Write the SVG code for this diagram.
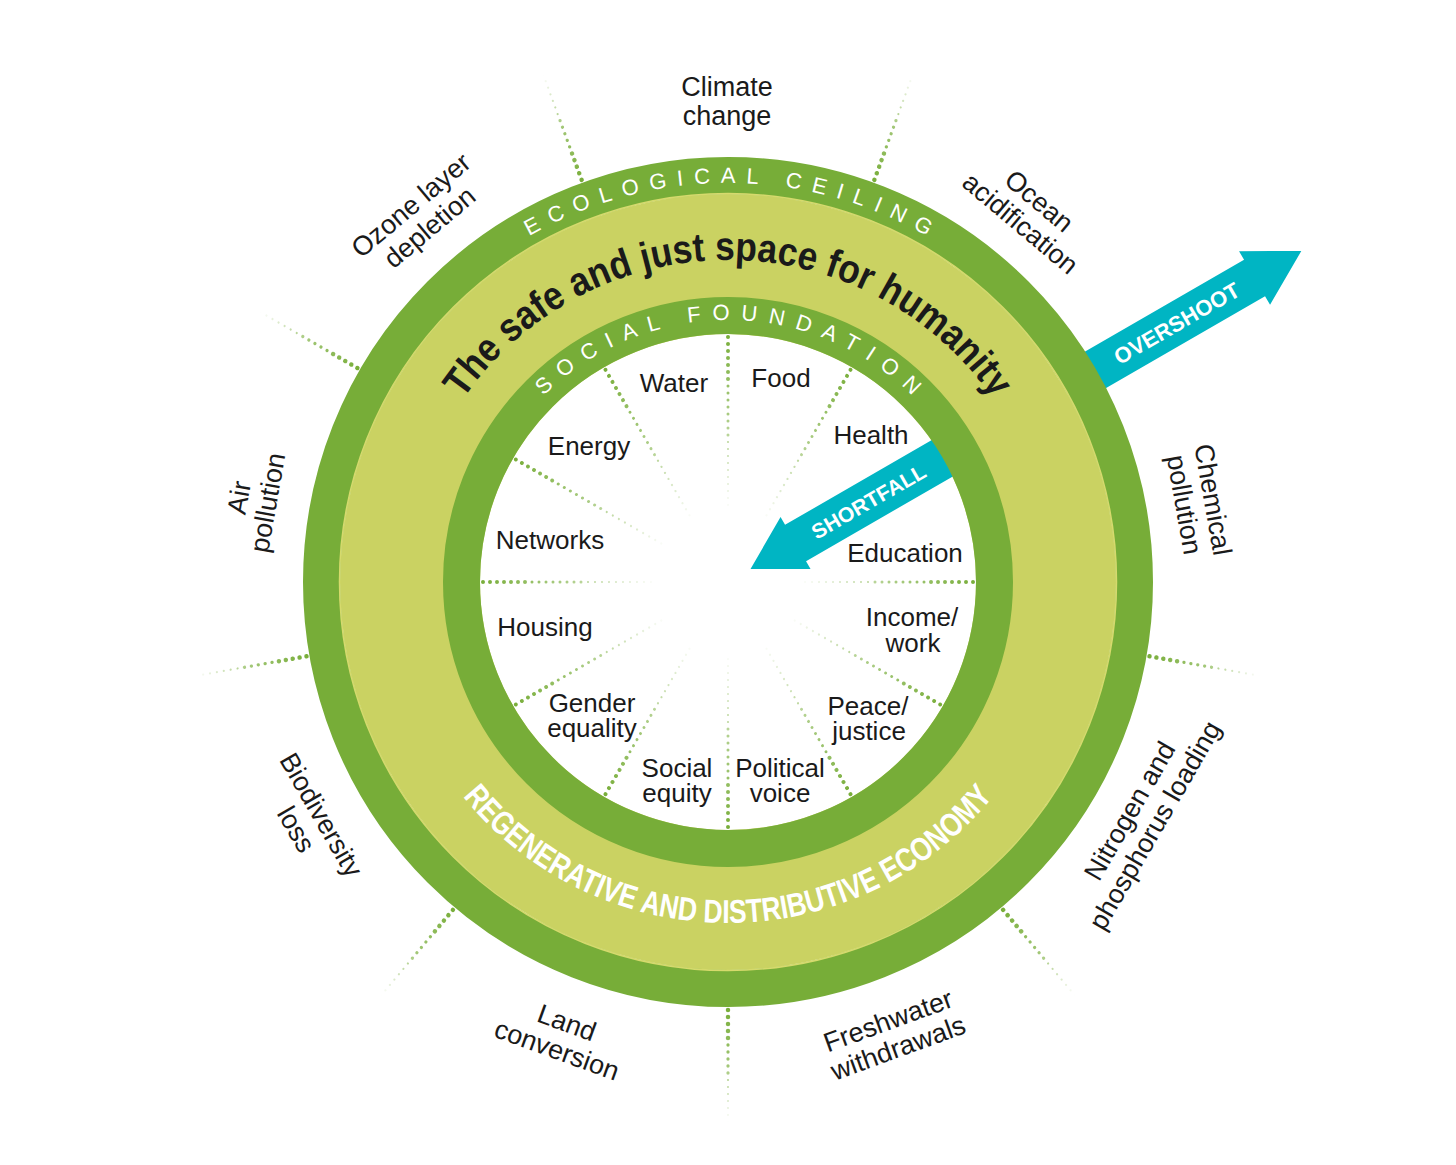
<svg xmlns="http://www.w3.org/2000/svg" xmlns:xlink="http://www.w3.org/1999/xlink" width="1456" height="1165" viewBox="0 0 1456 1165">
<style>
.lab{font-family:"Liberation Sans",Arial,sans-serif;font-size:26px;fill:#1a1a1a;text-anchor:middle}
.out{font-family:"Liberation Sans",Arial,sans-serif;font-size:27px;fill:#1a1a1a;text-anchor:middle}
.ring{font-family:"Liberation Sans",Arial,sans-serif;font-size:22px;fill:#ffffff}
.title{font-family:"Liberation Sans",Arial,sans-serif;font-weight:bold;font-size:40px;fill:#1a1a1a}
.econ{font-family:"Liberation Sans",Arial,sans-serif;font-weight:bold;font-size:33px;fill:#ffffff}
.arr{font-family:"Liberation Sans",Arial,sans-serif;font-weight:bold;fill:#ffffff;text-anchor:middle}
.teal{fill:#00B5C3}
</style>
<defs>
<linearGradient id="gOut" gradientUnits="userSpaceOnUse" x1="425" y1="0" x2="540" y2="0">
<stop offset="0" stop-color="#77AD38" stop-opacity="1"/>
<stop offset="0.5" stop-color="#77AD38" stop-opacity="0.7"/>
<stop offset="1" stop-color="#77AD38" stop-opacity="0"/>
</linearGradient>
<linearGradient id="gIn" gradientUnits="userSpaceOnUse" x1="248" y1="0" x2="70" y2="0">
<stop offset="0" stop-color="#77AD38" stop-opacity="1"/>
<stop offset="0.5" stop-color="#77AD38" stop-opacity="0.6"/>
<stop offset="1" stop-color="#77AD38" stop-opacity="0"/>
</linearGradient>
<g id="spokeOut" fill="none" stroke="url(#gOut)" stroke-linecap="round" stroke-dasharray="0 7">
<line x1="428" y1="0" x2="460" y2="0" stroke-width="4.5"/>
<line x1="463" y1="0" x2="495" y2="0" stroke-width="3.3"/>
<line x1="498" y1="0" x2="541" y2="0" stroke-width="2.2"/>
</g>
<g id="spokeIn" fill="none" stroke="url(#gIn)" stroke-linecap="round" stroke-dasharray="0 7">
<line x1="245" y1="0" x2="200" y2="0" stroke-width="4"/>
<line x1="196" y1="0" x2="145" y2="0" stroke-width="3"/>
<line x1="140" y1="0" x2="70" y2="0" stroke-width="2.2"/>
</g>
<path id="pEco" d="M 329 582 A 399 399 0 0 1 1127 582" fill="none"/>
<path id="pSoc" d="M 466 582 A 262 262 0 0 1 990 582" fill="none"/>
<path id="pTitle" d="M 406 582 A 322 322 0 0 1 1050 582" fill="none"/>
<path id="pEcon" d="M 387 582 A 341 341 0 0 0 1069 582" fill="none"/>
</defs>
<rect x="0" y="0" width="1456" height="1165" fill="#ffffff"/>

<g id="connectors">
<use href="#spokeOut" transform="translate(728 582) rotate(10)"/>
<use href="#spokeOut" transform="translate(728 582) rotate(50)"/>
<use href="#spokeOut" transform="translate(728 582) rotate(90)"/>
<use href="#spokeOut" transform="translate(728 582) rotate(130)"/>
<use href="#spokeOut" transform="translate(728 582) rotate(170)"/>
<use href="#spokeOut" transform="translate(728 582) rotate(210)"/>
<use href="#spokeOut" transform="translate(728 582) rotate(250)"/>
<use href="#spokeOut" transform="translate(728 582) rotate(290)"/>
</g>

<g id="overshoot" transform="translate(728 582) rotate(-30)">
<polygon class="teal" points="400,-21 608,-21 608,-31 662,0 608,31 608,21 400,21"/>
<text class="arr" x="518" y="8" font-size="22" textLength="141" lengthAdjust="spacingAndGlyphs">OVERSHOOT</text>
</g>

<g id="doughnut">
<circle cx="728" cy="582" r="388" fill="#CAD262"/>
<circle cx="728" cy="582" r="406.5" fill="none" stroke="#77AD38" stroke-width="37"/>
<circle cx="728" cy="582" r="388.5" fill="none" stroke="#D6DA6C" stroke-width="1.5"/>
<circle cx="728" cy="582" r="248" fill="#ffffff"/>
</g>

<g id="inner-spokes">
<use href="#spokeIn" transform="translate(728 582) rotate(0)"/>
<use href="#spokeIn" transform="translate(728 582) rotate(30)"/>
<use href="#spokeIn" transform="translate(728 582) rotate(60)"/>
<use href="#spokeIn" transform="translate(728 582) rotate(90)"/>
<use href="#spokeIn" transform="translate(728 582) rotate(120)"/>
<use href="#spokeIn" transform="translate(728 582) rotate(150)"/>
<use href="#spokeIn" transform="translate(728 582) rotate(180)"/>
<use href="#spokeIn" transform="translate(728 582) rotate(210)"/>
<use href="#spokeIn" transform="translate(728 582) rotate(240)"/>
<use href="#spokeIn" transform="translate(728 582) rotate(270)"/>
<use href="#spokeIn" transform="translate(728 582) rotate(300)"/>
</g>

<g id="shortfall" transform="translate(728 582) rotate(-30)">
<polygon class="teal" points="26,0 78,-30 78,-21 262,-21 262,21 78,21 78,30"/>
<text class="arr" x="162" y="8" font-size="21" textLength="128" lengthAdjust="spacingAndGlyphs">SHORTFALL</text>
</g>

<g id="inner-ring">
<circle cx="728" cy="582" r="266.5" fill="none" stroke="#77AD38" stroke-width="37"/>
</g>

<g id="ring-labels">
<text class="ring" letter-spacing="10.6"><textPath href="#pEco" startOffset="632" text-anchor="middle">ECOLOGICAL CEILING</textPath></text>
<text class="ring" letter-spacing="11.2"><textPath href="#pSoc" startOffset="417" text-anchor="middle">SOCIAL FOUNDATION</textPath></text>
<text class="title"><textPath href="#pTitle" startOffset="50%" text-anchor="middle" textLength="622" lengthAdjust="spacingAndGlyphs">The safe and just space for humanity</textPath></text>
<text class="econ"><textPath href="#pEcon" startOffset="50%" text-anchor="middle" textLength="607" lengthAdjust="spacingAndGlyphs">REGENERATIVE AND DISTRIBUTIVE ECONOMY</textPath></text>
</g>

<g id="social-labels">
<g id="n-water"><text class="lab" x="674" y="392">Water</text></g>
<g id="n-food"><text class="lab" x="781" y="387">Food</text></g>
<g id="n-health"><text class="lab" x="871" y="444">Health</text></g>
<g id="n-education"><text class="lab" x="905" y="562">Education</text></g>
<g id="n-income"><text class="lab"><tspan x="912" y="626">Income/</tspan><tspan x="913" y="652">work</tspan></text></g>
<g id="n-peace"><text class="lab"><tspan x="868" y="715">Peace/</tspan><tspan x="869" y="740">justice</tspan></text></g>
<g id="n-political"><text class="lab"><tspan x="780" y="777">Political</tspan><tspan x="780" y="802">voice</tspan></text></g>
<g id="n-social"><text class="lab"><tspan x="677" y="777">Social</tspan><tspan x="677" y="802">equity</tspan></text></g>
<g id="n-gender"><text class="lab"><tspan x="592" y="712">Gender</tspan><tspan x="592" y="737">equality</tspan></text></g>
<g id="n-housing"><text class="lab" x="545" y="636">Housing</text></g>
<g id="n-networks"><text class="lab" x="550" y="549">Networks</text></g>
<g id="n-energy"><text class="lab" x="589" y="455">Energy</text></g>
</g>

<g id="ecological-labels">
<g id="n-climate" transform="translate(727 101)"><text class="out"><tspan x="0" y="-5">Climate</tspan><tspan x="0" y="24">change</tspan></text></g>
<g id="n-ocean" transform="translate(1030 212) rotate(40)"><text class="out"><tspan x="0" y="-5">Ocean</tspan><tspan x="0" y="24">acidification</tspan></text></g>
<g id="n-chemical" transform="translate(1199 502) rotate(80)"><text class="out"><tspan x="0" y="-5">Chemical</tspan><tspan x="0" y="24">pollution</tspan></text></g>
<g id="n-nitrogen" transform="translate(1142 818) rotate(-60)"><text class="out"><tspan x="0" y="-5">Nitrogen and</tspan><tspan x="0" y="24">phosphorus loading</tspan></text></g>
<g id="n-freshwater" transform="translate(893 1034) rotate(-20)"><text class="out"><tspan x="0" y="-5">Freshwater</tspan><tspan x="0" y="24">withdrawals</tspan></text></g>
<g id="n-land" transform="translate(562 1036) rotate(20)"><text class="out"><tspan x="0" y="-5">Land</tspan><tspan x="0" y="24">conversion</tspan></text></g>
<g id="n-biodiversity" transform="translate(309 822) rotate(60)"><text class="out"><tspan x="0" y="-5">Biodiversity</tspan><tspan x="0" y="24">loss</tspan></text></g>
<g id="n-air" transform="translate(253 500) rotate(-80)"><text class="out"><tspan x="0" y="-5">Air</tspan><tspan x="0" y="24">pollution</tspan></text></g>
<g id="n-ozone" transform="translate(420 216) rotate(-40)"><text class="out"><tspan x="0" y="-5">Ozone layer</tspan><tspan x="0" y="24">depletion</tspan></text></g>
</g>
</svg>
